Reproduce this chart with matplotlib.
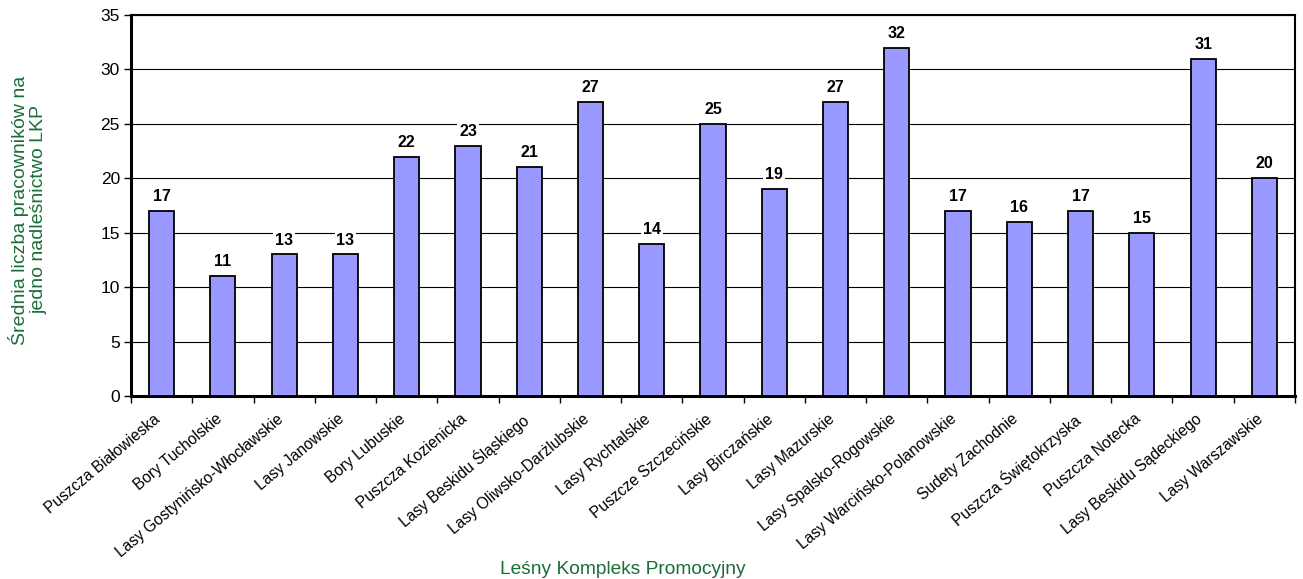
import matplotlib
matplotlib.use("Agg")
import matplotlib.pyplot as plt
import matplotlib.transforms as mtransforms
import numpy as np

categories = ["Puszcza Białowieska", "Bory Tucholskie", "Lasy Gostynińsko-Włocławskie",
              "Lasy Janowskie", "Bory Lubuskie", "Puszcza Kozienicka",
              "Lasy Beskidu Śląskiego", "Lasy Oliwsko-Darżlubskie", "Lasy Rychtalskie",
              "Puszcze Szczecińskie", "Lasy Birczańskie", "Lasy Mazurskie",
              "Lasy Spalsko-Rogowskie", "Lasy Warcińsko-Polanowskie", "Sudety Zachodnie",
              "Puszcza Świętokrzyska", "Puszcza Notecka", "Lasy Beskidu Sądeckiego",
              "Lasy Warszawskie"]
values = [17, 11, 13, 13, 22, 23, 21, 27, 14, 25, 19, 27, 32, 17, 16, 17, 15, 31, 20]
yticks = [0, 5, 10, 15, 20, 25, 30, 35]

plt.rcParams['font.family'] = ['Liberation Sans', 'DejaVu Sans']
green = '#1a6e38'

fig = plt.figure(figsize=(13.03, 5.79), dpi=100)
W, H = 1303, 579
ax = fig.add_axes([131 / W, 1 - 396 / H, (1295 - 131) / W, (396 - 15) / H])

x = np.arange(len(categories))
ax.bar(x, values, width=0.41, color='#9999ff', edgecolor='black', linewidth=1.3, zorder=3)

for xi, v in zip(x, values):
    ax.annotate(str(v), (xi, v), xytext=(0, 5), textcoords='offset points',
                ha='center', va='bottom', fontsize=11.5, fontweight='bold', zorder=4,
                bbox=dict(boxstyle='square,pad=0.12', fc='white', ec='none'))

ax.set_xlim(-0.5, len(categories) - 0.5)
ax.set_ylim(0, 35)
ax.set_yticks(yticks)
ax.set_yticklabels([str(t) for t in yticks], fontsize=12.5)
ax.yaxis.grid(True, color='black', linewidth=0.8, zorder=0)
ax.set_axisbelow(True)

ax.set_xticks(x)
ax.set_xticklabels(categories, rotation=40, ha='right', rotation_mode='anchor', fontsize=11.2)
ax.tick_params(axis='x', which='major', length=0, pad=11)
offset = mtransforms.ScaledTranslation(-8 / 100, 0, fig.dpi_scale_trans)
for lbl in ax.get_xticklabels():
    lbl.set_transform(lbl.get_transform() + offset)
ax.set_xticks(np.arange(-0.5, len(categories), 1), minor=True)
ax.tick_params(axis='x', which='minor', length=5, width=1, direction='out')
ax.tick_params(axis='y', length=5, width=1, direction='out', pad=3)

for s in ['top', 'right']:
    ax.spines[s].set_linewidth(1.5)
for s in ['left', 'bottom']:
    ax.spines[s].set_linewidth(2.2)

fig.text(28 / W, 1 - 210 / H, "Średnia liczba pracowników na\njedno nadleśnictwo LKP",
         rotation=90, ha='center', va='center', color=green, fontsize=14, linespacing=1.1)
fig.text(623 / W, 1 - 569 / H, "Leśny Kompleks Promocyjny", ha='center', va='center',
         color=green, fontsize=13.8)

fig.savefig("out.png", dpi=100)
